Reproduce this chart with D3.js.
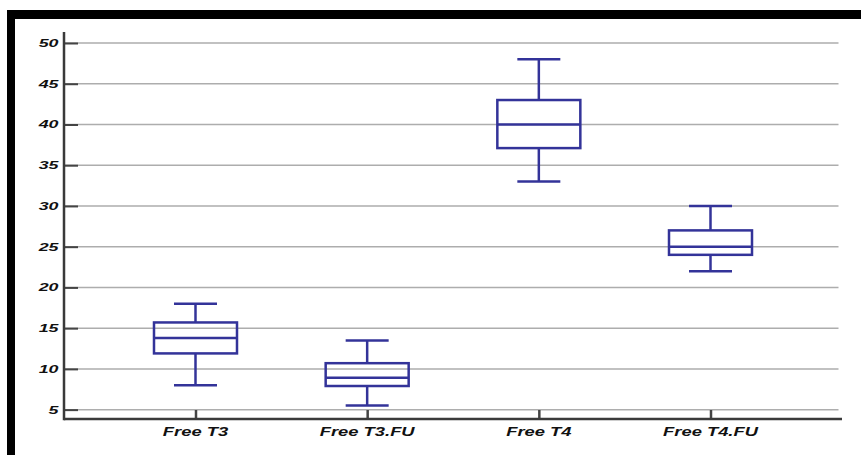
<!DOCTYPE html>
<html><head><meta charset="utf-8">
<script src="https://cdn.jsdelivr.net/npm/d3@7"></script>
<style>html,body{margin:0;padding:0;background:#fff;}svg{display:block;}</style>
</head><body>
<script>
const categories = ["Free T3", "Free T3.FU", "Free T4", "Free T4.FU"];
const whiskerLow = [8, 5.5, 33, 22];
const q1 = [11.9, 7.9, 37.1, 24];
const median = [13.8, 8.9, 40, 25];
const q3 = [15.7, 10.7, 43, 27];
const whiskerHigh = [18, 13.5, 48, 30];
const yTicks = [5, 10, 15, 20, 25, 30, 35, 40, 45, 50];

const W = 861, H = 455;
const svg = d3.select("body").append("svg").attr("width", W).attr("height", H);

// frame
svg.append("rect").attr("x", 7).attr("y", 10).attr("width", W - 7).attr("height", 9).attr("fill", "#000");
svg.append("rect").attr("x", 7).attr("y", 10).attr("width", 8).attr("height", H - 10).attr("fill", "#000");

const x0 = 64, x1 = 842, yTop = 32, yBot = 419;
const y = d3.scaleLinear().domain([3.85, 51.35]).range([yBot, yTop]);
const x = d3.scalePoint().domain(categories).range([x0, x1]).padding(0.766);

const font = "'Liberation Sans', Arial, sans-serif";

// gridlines
svg.append("g").selectAll("line").data(yTicks).join("line")
  .attr("x1", x0).attr("x2", 838.5)
  .attr("y1", d => y(d)).attr("y2", d => y(d))
  .attr("stroke", "#adadad").attr("stroke-width", 1.5);

// y axis
const yAxis = svg.append("g").attr("transform", `translate(${x0},0)`)
  .call(d3.axisRight(y).tickValues(yTicks).tickSize(14).tickFormat(""));
yAxis.select(".domain").remove();
yAxis.selectAll(".tick line").attr("stroke", "#444").attr("stroke-width", 2);

svg.append("g").selectAll("text").data(yTicks).join("text")
  .attr("transform", d => `translate(58.5,${y(d) + 4}) scale(1.55,1)`)
  .attr("text-anchor", "end")
  .attr("font-family", font).attr("font-weight", "bold").attr("font-style", "italic")
  .attr("font-size", 11.5).attr("fill", "#111")
  .text(d => d);

// x axis
const xAxis = svg.append("g").attr("transform", `translate(0,${yBot})`)
  .call(d3.axisTop(x).tickSize(9).tickFormat(""));
xAxis.select(".domain").remove();
xAxis.selectAll(".tick line").attr("stroke", "#444").attr("stroke-width", 2.5);

svg.append("line").attr("x1", x0).attr("x2", x1).attr("y1", yBot).attr("y2", yBot)
  .attr("stroke", "#3a3a3a").attr("stroke-width", 2.5);
svg.append("line").attr("x1", x0).attr("x2", x0).attr("y1", yTop).attr("y2", yBot + 1.2)
  .attr("stroke", "#3a3a3a").attr("stroke-width", 2.5);

svg.append("g").selectAll("text").data(categories).join("text")
  .attr("transform", d => `translate(${x(d)},436) scale(1.47,1)`)
  .attr("text-anchor", "middle")
  .attr("font-family", font).attr("font-weight", "bold").attr("font-style", "italic")
  .attr("font-size", 12.5).attr("fill", "#111")
  .text(d => d);

// boxes
const color = "#333399";
const boxW = 83, capW = 43;
const data = categories.map((c, i) => ({c, lo: whiskerLow[i], q1: q1[i], med: median[i], q3: q3[i], hi: whiskerHigh[i]}));
const g = svg.append("g").selectAll("g").data(data).join("g")
  .attr("fill", "none").attr("stroke", color).attr("stroke-width", 2.5);
g.append("line").attr("x1", d => x(d.c)).attr("x2", d => x(d.c))
  .attr("y1", d => y(d.hi)).attr("y2", d => y(d.q3));
g.append("line").attr("x1", d => x(d.c)).attr("x2", d => x(d.c))
  .attr("y1", d => y(d.q1)).attr("y2", d => y(d.lo));
g.append("line").attr("x1", d => x(d.c) - capW / 2).attr("x2", d => x(d.c) + capW / 2)
  .attr("y1", d => y(d.hi)).attr("y2", d => y(d.hi));
g.append("line").attr("x1", d => x(d.c) - capW / 2).attr("x2", d => x(d.c) + capW / 2)
  .attr("y1", d => y(d.lo)).attr("y2", d => y(d.lo));
g.append("rect").attr("x", d => x(d.c) - boxW / 2).attr("width", boxW)
  .attr("y", d => y(d.q3)).attr("height", d => y(d.q1) - y(d.q3));
g.append("line").attr("x1", d => x(d.c) - boxW / 2).attr("x2", d => x(d.c) + boxW / 2)
  .attr("y1", d => y(d.med)).attr("y2", d => y(d.med));
</script>
</body></html>
